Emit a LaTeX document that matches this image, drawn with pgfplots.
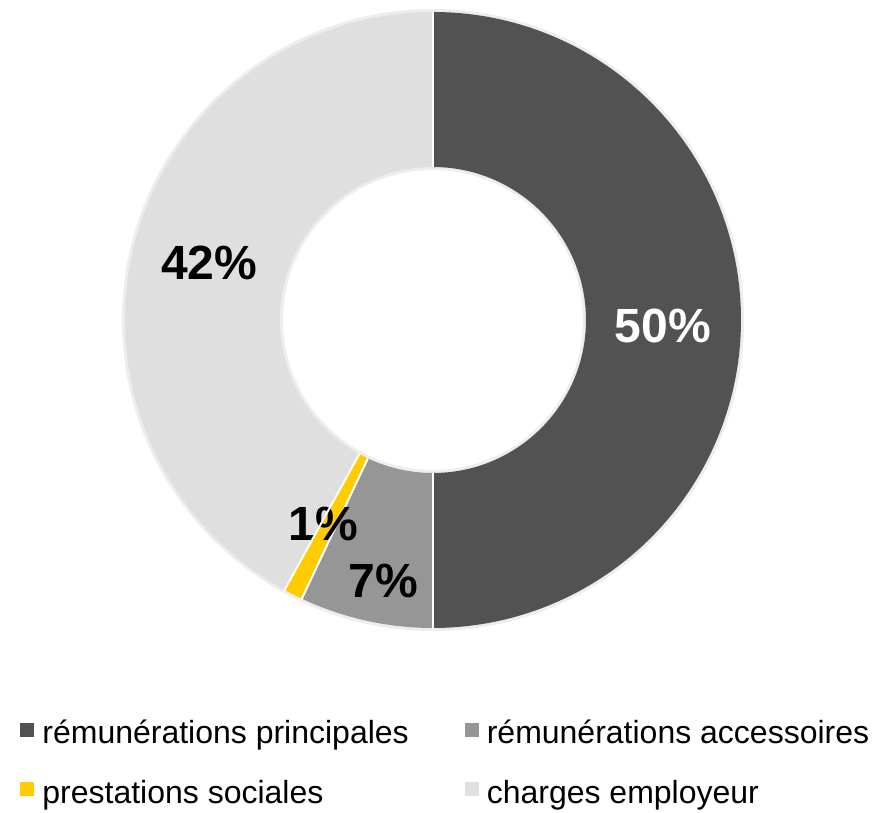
\documentclass[border=0pt]{standalone}
\usepackage{fontspec}
\setmainfont{Liberation Sans}
\usepackage{pgfplots}
\usepackage{pgfplotstable}
\pgfplotsset{compat=1.18}

\definecolor{cPrinc}{HTML}{525252}
\definecolor{cAcc}{HTML}{969696}
\definecolor{cPrest}{HTML}{FFCC00}
\definecolor{cCharg}{HTML}{DFDFDF}

% share in %, fill, label colour, label radius (px), label angle shift (deg)
\pgfplotstableread{
value fill   txt   lr  da
50    cPrinc white 230 -1.5
7     cAcc   black 266 1.8
1     cPrest black 232 -1.3
42    cCharg black 231 0.1
}\shares

\begin{document}
\begin{tikzpicture}
\begin{axis}[
    x=0.5pt, y=0.5pt,
    xmin=0, xmax=874, ymin=0, ymax=813,
    hide axis, clip=false,
    legend columns=2,
    legend image code/.code={\fill[#1] (0pt,-1.5pt) rectangle (7pt,5.5pt);
        \path (9pt,0pt);},
    legend style={draw=none, fill=none, inner sep=0pt,
        font=\fontsize{16}{19}\selectfont,
        at={(axis cs:20,97)}, anchor=north west,
        row sep=12.5pt,
        /tikz/every even column/.append style={column sep=26pt}},
    legend cell align=left,
]
\addlegendimage{fill=cPrinc, draw=none}
\addlegendentry{rémunérations principales}
\addlegendimage{fill=cAcc, draw=none}
\addlegendentry{rémunérations accessoires}
\addlegendimage{fill=cPrest, draw=none}
\addlegendentry{prestations sociales}
\addlegendimage{fill=cCharg, draw=none}
\addlegendentry{charges employeur}

\pgfplotsextra{
  \path (axis cs:0,0) rectangle (axis cs:874,813);
  % soft edge of the ring
  \draw[black!7, line width=2pt] (axis cs:433,493) circle[radius=154.5pt];
  \draw[black!7, line width=2pt] (axis cs:433,493) circle[radius=76pt];
  \pgfplotstablegetrowsof{\shares}
  \pgfmathtruncatemacro\nrows{\pgfplotsretval-1}
  \gdef\cum{0}
  \foreach \i in {0,...,\nrows}{
    \pgfplotstablegetelem{\i}{value}\of\shares \let\val\pgfplotsretval
    \pgfplotstablegetelem{\i}{fill}\of\shares \let\fc\pgfplotsretval
    \pgfmathsetmacro\aS{90-3.6*\cum}
    \pgfmathsetmacro\aE{90-3.6*(\cum+\val)}
    \pgfmathsetmacro\xo{433+308*cos(\aS)}
    \pgfmathsetmacro\yo{493+308*sin(\aS)}
    \pgfmathsetmacro\xi{433+153*cos(\aE)}
    \pgfmathsetmacro\yi{493+153*sin(\aE)}
    \fill[\fc] (axis cs:\xo,\yo) arc[start angle=\aS, end angle=\aE, radius=154pt]
      -- (axis cs:\xi,\yi) arc[start angle=\aE, end angle=\aS, radius=76.5pt] -- cycle;
    \pgfmathsetmacro\newcum{\cum+\val}
    \xdef\cum{\newcum}
  }
  \gdef\cum{0}
  \foreach \i in {0,...,\nrows}{
    \pgfplotstablegetelem{\i}{value}\of\shares \let\val\pgfplotsretval
    \pgfplotstablegetelem{\i}{txt}\of\shares \let\tc\pgfplotsretval
    \pgfplotstablegetelem{\i}{lr}\of\shares \let\lr\pgfplotsretval
    \pgfplotstablegetelem{\i}{da}\of\shares \let\da\pgfplotsretval
    \pgfmathsetmacro\aS{90-3.6*\cum}
    \pgfmathsetmacro\aE{90-3.6*(\cum+\val)}
    \pgfmathsetmacro\aM{(\aS+\aE)/2+\da}
    \pgfmathsetmacro\xa{433+153*cos(\aS)}
    \pgfmathsetmacro\ya{493+153*sin(\aS)}
    \pgfmathsetmacro\xb{433+309*cos(\aS)}
    \pgfmathsetmacro\yb{493+309*sin(\aS)}
    \draw[white, line width=1pt] (axis cs:\xa,\ya) -- (axis cs:\xb,\yb);
    \pgfmathsetmacro\xl{433+\lr*cos(\aM)}
    \pgfmathsetmacro\yl{493+\lr*sin(\aM)}
    \node[text=\tc, font=\bfseries\fontsize{24}{24}\selectfont, inner sep=0pt]
      at (axis cs:\xl,\yl) {\val\%};
    \pgfmathsetmacro\newcum{\cum+\val}
    \xdef\cum{\newcum}
  }
}
\end{axis}
\end{tikzpicture}
\end{document}
